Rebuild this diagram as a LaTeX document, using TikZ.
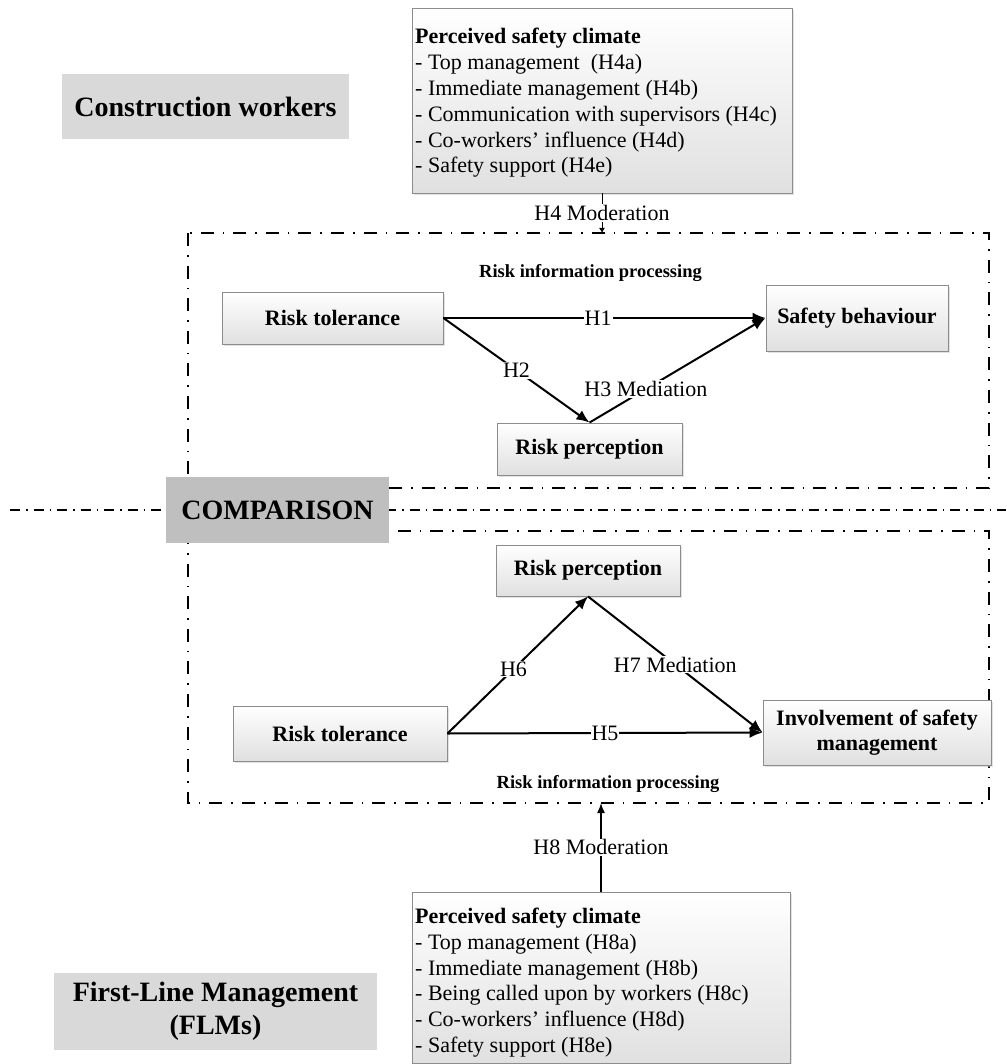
\documentclass[tikz,border=0pt]{standalone}
\usepackage{fontspec}
\setmainfont{Liberation Serif}
\usetikzlibrary{arrows.meta,shadows}

\definecolor{boxedge}{HTML}{8C8C8C}
\definecolor{boxshade}{HTML}{E0E0E0}
\definecolor{tagfill}{HTML}{D9D9D9}
\definecolor{cmpfill}{HTML}{BFBFBF}

\tikzset{
  varbox/.style={draw=boxedge, line width=0.9pt, top color=white, bottom color=boxshade,
    drop shadow={shadow xshift=2pt, shadow yshift=-2pt, fill=black!22},
    inner sep=0pt, align=center, font=\fontsize{22}{25}\selectfont\bfseries},
  climbox/.style={draw=boxedge, line width=0.9pt, top color=white, bottom color=boxshade,
    drop shadow={shadow xshift=2pt, shadow yshift=-2pt, fill=black!22}, inner sep=0pt},
  listline/.style={anchor=base west, inner sep=0pt, font=\fontsize{22}{25}\selectfont},
  groupframe/.style={draw=black, line width=1.8pt, dash pattern=on 13pt off 9pt on 1.6pt off 9pt},
  splitline/.style={draw=black, line width=1.3pt, dash pattern=on 10pt off 6pt on 1.5pt off 6pt},
  tag/.style={fill=tagfill, inner sep=0pt, align=center, font=\fontsize{28}{33}\selectfont\bfseries},
  link/.style={line width=2pt, -{Latex[length=13pt,width=11pt]}},
  hlabel/.style={fill=white, inner sep=1pt, font=\fontsize{22}{25}\selectfont},
  procnote/.style={inner sep=0pt, font=\fontsize{18.5}{22}\selectfont\bfseries},
}

\begin{document}
\begin{tikzpicture}[x=1pt,y=-1pt]
  \useasboundingbox[fill=white] (0,0) rectangle (1006,1064);

  % group frames and the dividing line
  \draw[groupframe] (188,233) rectangle (989,488);
  \draw[groupframe] (188,531) rectangle (989,803);
  \draw[splitline] (10,510) -- (1006,510);

  % group headings
  \node[tag, minimum width=287pt, minimum height=65pt] (cw) at (205.5,106.5) {Construction workers};
  \node[tag, fill=cmpfill, minimum width=223pt, minimum height=66pt] (cmp) at (277.5,510) {COMPARISON};
  \node[tag, minimum width=323pt, minimum height=77pt] (flm) at (215.5,1011.5) {First-Line Management\\(FLMs)};

  % safety climate (workers)
  \node[climbox, minimum width=380pt, minimum height=185pt] (climTop) at (602,100.5) {};
  \foreach \lineY/\lineText [count=\k] in {
      44/{\textbf{Perceived safety climate}},
      70/{- Top management\ \ (H4a)},
      95.8/{- Immediate management (H4b)},
      121.6/{- Communication with supervisors (H4c)},
      147.4/{- Co-workers’ influence (H4d)},
      173/{- Safety support (H4e)}}
    \node[listline] (topL\k) at (415,\lineY) {\lineText};

  % safety climate (FLMs)
  \node[climbox, minimum width=378pt, minimum height=171pt] (climBot) at (601,977.5) {};
  \foreach \lineY/\lineText [count=\k] in {
      923/{\textbf{Perceived safety climate}},
      949/{- Top management (H8a)},
      975/{- Immediate management (H8b)},
      1000.5/{- Being called upon by workers (H8c)},
      1026/{- Co-workers’ influence (H8d)},
      1052/{- Safety support (H8e)}}
    \node[listline] (botL\k) at (415,\lineY) {\lineText};

  % workers' model
  \node[procnote] (procA) at (590.5,273) {Risk information processing};
  \node[varbox, minimum width=221pt, minimum height=52pt] (rtA) at (332.5,318) {Risk tolerance};
  \node[varbox, minimum width=182pt, minimum height=66pt] (sbA) at (857,318) {Safety behaviour};
  \node[varbox, minimum width=185pt, minimum height=52pt] (rpA) at (589.5,449) {Risk perception};

  \draw[link] (rtA.east) -- node[hlabel, pos=0.48] {H1} (sbA.west);
  \draw[link] (rtA.east) -- node[hlabel, pos=0.5] {H2} (rpA.north);
  \draw[link] (rpA.north) -- node[hlabel, pos=0.32] {H3 Mediation} (sbA.west);

  % FLMs' model
  \node[procnote] (procB) at (608,784) {Risk information processing};
  \node[varbox, minimum width=184pt, minimum height=51pt] (rpB) at (588,570.5) {Risk perception};
  \node[varbox, minimum width=214pt, minimum height=55pt] (rtB) at (340,733.5) {Risk tolerance};
  \node[varbox, minimum width=228pt, minimum height=65pt] (inv) at (877,732.5) {Involvement of safety\\management};

  \draw[link] (rtB.east) -- node[hlabel, pos=0.5] {H5} (inv.west);
  \draw[link] (rtB.east) -- node[hlabel, pos=0.47] {H6} (rpB.south);
  \draw[link] (rpB.south) -- node[hlabel, pos=0.5] {H7 Mediation} (inv.west);

  % moderation links
  \coordinate (frameTopIn) at (602,233);
  \coordinate (frameBotIn) at (601,803);
  \draw[line width=1pt, -{Latex[length=5pt,width=6pt]}] (climTop.south) -- node[hlabel] {H4 Moderation} (frameTopIn);
  \draw[line width=1.4pt, -{Latex[length=10pt,width=8pt]}] (climBot.north) -- node[hlabel] {H8 Moderation} (frameBotIn);
\end{tikzpicture}
\end{document}
